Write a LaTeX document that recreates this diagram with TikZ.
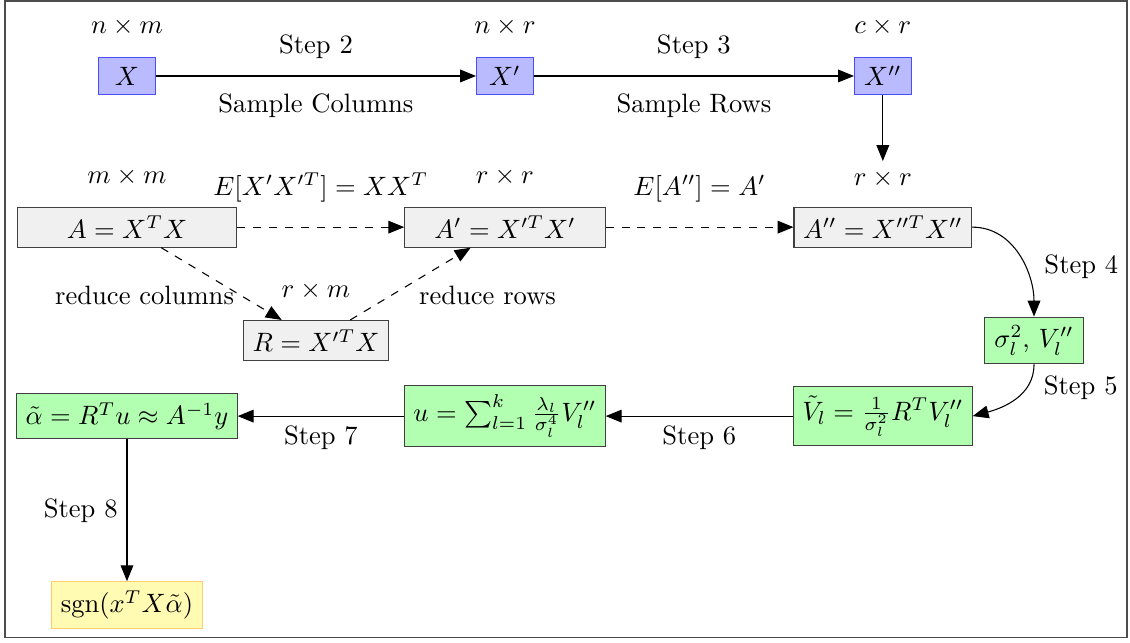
\documentclass[tikz,border=0pt]{standalone}
\usepackage{tikz}
\usetikzlibrary{arrows.meta,positioning}
\usepackage{amsmath}
\definecolor{sgnedge}{RGB}{255,205,110}

\begin{document}
\begin{tikzpicture}[
    mat/.style={rectangle, draw=blue!70, fill=blue!27, minimum width=0.75cm, minimum height=0.5cm},
    gram/.style={rectangle, draw=black!75, fill=gray!12, minimum height=0.5cm},
    eig/.style={rectangle, draw=black!75, fill=green!30, minimum height=0.5cm},
    result/.style={rectangle, draw=sgnedge, fill=yellow!30, minimum width=2cm, minimum height=0.6cm},
    arrow/.style={-{Triangle[length=6pt, width=4.8pt]}},
    dasharrow/.style={arrow, dashed},
    node distance=2.5cm, on grid
]
\useasboundingbox (-1.68,1.005) rectangle (13.27,-7.50);
\draw[black!70] (-1.614,0.992) rectangle (13.23,-7.435);

% sampling
\node[mat] (X) {$X$};
\node[mat, right=5cm of X] (Xp) {$X'$};
\node[mat, right=5cm of Xp] (Xpp) {$X''$};

% gram matrices
\node[gram, minimum width=2.9cm, below=2cm of X] (A) {$A = X^TX$};
\node[gram, minimum width=2.65cm, below=2cm of Xp] (Ap) {$A' = X'^TX'$};
\node[gram, minimum width=2.35cm, below=2cm of Xpp] (App) {$A'' = X''^TX''$};
\node[gram, minimum width=1.9cm, below right=1.5cm and 2.5cm of A] (R) {$R = X'^TX$};

% eigen part
\node[eig, minimum width=1.3cm, below right=1.5cm and 2cm of App] (sig) {$\sigma_l^2$, $V_l''$};
\node[eig, minimum width=2.35cm, below=2.5cm of App] (Vt) {$\tilde{V}_l = \frac{1}{\sigma_l^2} R^T V_l''$};
\node[eig, minimum width=2.65cm, below=2.5cm of Ap] (u) {$u = \sum_{l=1}^k \frac{\lambda_l}{\sigma_l^4} V_l''$};
\node[eig, minimum width=2.9cm, below=2.5cm of A] (alpha) {$\tilde{\alpha} = R^T u \approx A^{-1} y$};
\node[result, below=2.5cm of alpha] (sgn) {$\mathrm{sgn}(x^T X \tilde{\alpha})$};

% sizes
\node[above=0.15cm of X.north] (dimX) {$n \times m$};
\node[above=0.15cm of Xp.north] (dimXp) {$n \times r$};
\node[above=0.15cm of Xpp.north] (dimXpp) {$c \times r$};
\node[above=0.15cm of A.north] (dimA) {$m \times m$};
\node[above=0.15cm of Ap.north] (dimAp) {$r \times r$};
\node[above=0.12cm of App.north] (dimApp) {$r \times r$};
\node[above=0.15cm of R.north] (dimR) {$r \times m$};

\draw[arrow] (X) -- node[above=3pt] {Step 2} node[below=3pt] {Sample Columns} (Xp);
\draw[arrow] (Xp) -- node[above=3pt] {Step 3} node[below=3pt] {Sample Rows} (Xpp);
\draw[arrow] (Xpp) -- (dimApp);
\draw[dasharrow] (A) -- node[above=6pt] {$E[X'X'^T] = XX^T$} (Ap);
\draw[dasharrow] (Ap) -- node[above=6pt] {$E[A''] = A'$} (App);
\draw[dasharrow] (A) -- node[pos=0.66, left=-1pt] {reduce columns} (R);
\draw[dasharrow] (R) -- node[pos=0.34, right=7pt] {reduce rows} (Ap);
\draw[arrow] (App) to[out=0, in=90] node[pos=0.6, right=4pt] {Step 4} (sig);
\draw[arrow] (sig.south) to[out=-90, in=15] node[pos=0.3, right=3pt] {Step 5} (Vt.east);
\draw[arrow] (Vt) -- node[below] {Step 6} (u);
\draw[arrow] (u) -- node[below] {Step 7} (alpha);
\draw[arrow] (alpha) -- node[left] {Step 8} (sgn);
\end{tikzpicture}
\end{document}
